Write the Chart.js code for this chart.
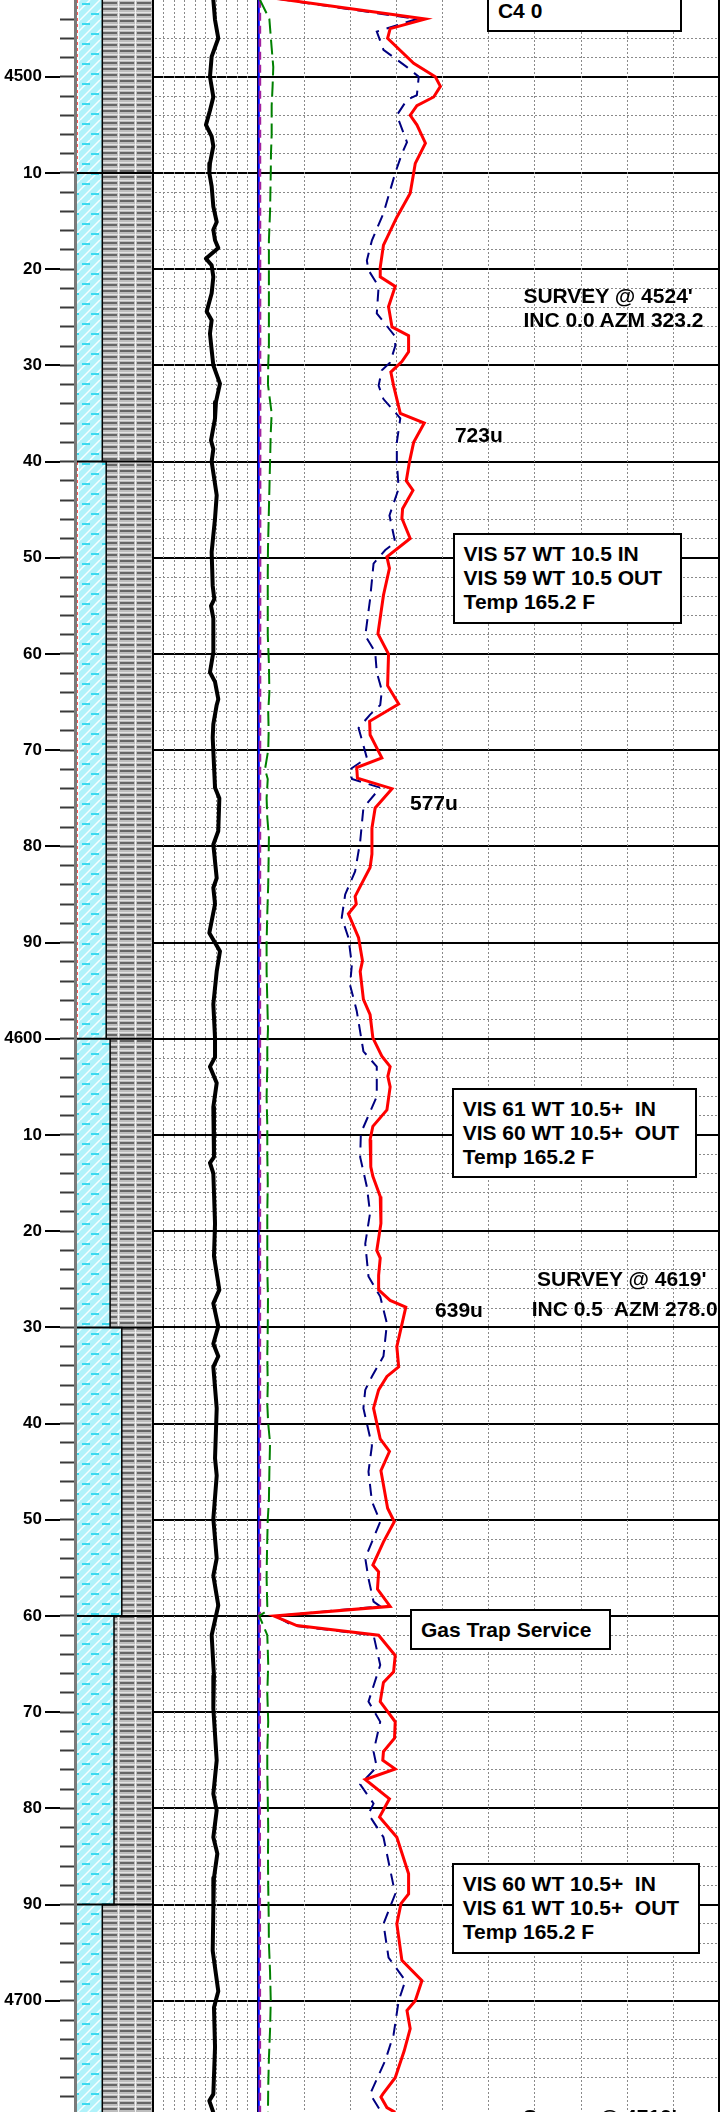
<!DOCTYPE html>
<html>
<head>
<meta charset="utf-8">
<script src="https://cdn.jsdelivr.net/npm/chart.js@4.4.0/dist/chart.umd.min.js"></script>
<style>
  html, body { margin: 0; padding: 0; background: #fff; }
  #wrap { position: relative; width: 720px; height: 2112px; overflow: hidden; }
  #log { display: block; }
  .note { position: absolute; font: bold 21px "Liberation Sans", Arial, sans-serif; line-height: 24px; color: #000; white-space: pre; }
  .box { background: #fff; border: 2px solid #000; box-sizing: border-box; padding: 7px 0 7px 9px; }
  .box.bottom { display: flex; align-items: flex-end; }
</style>
</head>
<body>
<div id="wrap"><canvas id="log" width="720" height="2112"></canvas></div>
<script>
// depth window shown (ft)
const depthTop = 4492.02;
const depthBottom = 4711.56;

// track tick values
const ropTicks = [0, 10, 20, 30, 40, 50, 60, 70, 80, 90, 100];
const gasTicks = [0, 200, 400, 600, 800, 1000, 1200, 1400, 1600, 1800, 2000];

// lithology intervals (top depth, % other, % limestone; rest shale)
const lithTop = [4490, 4510, 4540, 4600, 4630, 4660, 4690];
const otherPct = [5, 0, 5, 0, 0, 0, 0];
const limePct = [30, 35, 35, 45, 60, 50, 35];

// ROP curve, track 1 [depth, value]
const rop = [
  [4492.0, 57.3], [4494.1, 58.9], [4496.0, 62.0], [4497.9, 55.7], [4500.0, 54.1], [4502.1, 57.3],
  [4503.5, 54.1], [4505.0, 50.3], [4506.2, 55.7], [4507.2, 57.3], [4509.0, 54.1], [4510.0, 53.5],
  [4511.4, 55.7], [4513.5, 57.3], [4515.1, 60.5], [4515.9, 57.3], [4517.0, 58.9], [4517.8, 62.0],
  [4518.9, 50.3], [4519.6, 55.7], [4520.8, 57.3], [4522.5, 55.7], [4524.4, 51.0], [4525.3, 55.7],
  [4526.7, 54.1], [4528.4, 55.7], [4530.0, 57.3], [4531.9, 63.6], [4533.8, 59.8], [4535.5, 58.9],
  [4537.8, 55.1], [4538.7, 57.3], [4540.0, 55.7], [4543.5, 60.5], [4545.9, 58.9], [4549.4, 55.7],
  [4552.9, 56.7], [4554.3, 58.2], [4555.0, 55.1], [4556.3, 57.3], [4559.8, 57.3], [4561.9, 54.1],
  [4562.9, 58.9], [4564.7, 62.0], [4565.3, 60.5], [4567.3, 57.3], [4568.7, 56.7], [4573.9, 58.9],
  [4575.0, 63.0], [4578.4, 62.0], [4579.8, 57.3], [4583.3, 60.5], [4584.3, 57.3], [4586.0, 58.9],
  [4589.0, 53.5], [4590.9, 63.6], [4593.0, 60.5], [4596.4, 57.3], [4599.9, 58.9], [4601.9, 58.9],
  [4602.9, 54.1], [4604.6, 60.5], [4607.1, 57.3], [4612.3, 57.9], [4612.9, 54.1], [4614.0, 57.3],
  [4619.2, 58.9], [4622.6, 57.9], [4626.1, 63.0], [4627.5, 57.3], [4629.9, 62.0], [4631.7, 57.3],
  [4633.0, 62.0], [4634.1, 57.3], [4638.4, 60.5], [4643.6, 58.9], [4645.4, 60.5], [4649.9, 57.3],
  [4654.0, 60.5], [4655.8, 57.3], [4658.9, 62.0], [4662.0, 55.7], [4666.2, 57.9], [4669.6, 57.3],
  [4675.0, 60.5], [4678.5, 57.3], [4680.2, 60.5], [4683.0, 57.3], [4684.7, 61.1], [4687.2, 57.9],
  [4690.6, 57.3], [4694.8, 56.7], [4699.0, 62.0], [4700.7, 57.9], [4704.8, 58.9], [4709.7, 57.3],
  [4710.4, 53.5], [4711.6, 57.3]
];

// total gas (units) [depth, value]
const totalGas = [
  [4491.6, 0], [4494.0, 725], [4495.0, 572], [4496.0, 561], [4498.6, 674], [4500.0, 768], [4501.0, 790],
  [4502.1, 761], [4503.0, 688], [4504.0, 659], [4505.0, 688], [4506.9, 725], [4509.0, 681], [4510.0, 674],
  [4512.1, 659], [4514.6, 601], [4517.5, 543], [4519.8, 529], [4520.8, 529], [4521.8, 594], [4523.9, 565],
  [4526.0, 580], [4526.9, 652], [4528.6, 652], [4529.6, 623], [4530.7, 575], [4532.1, 587], [4535.0, 616],
  [4536.0, 720], [4538.0, 674], [4540.0, 656], [4542.0, 642], [4543.0, 671], [4544.9, 626], [4545.9, 623],
  [4548.0, 659], [4549.9, 558], [4551.1, 569], [4553.9, 543], [4557.9, 519], [4560.0, 565], [4563.3, 561],
  [4565.2, 609], [4567.0, 483], [4568.4, 485], [4570.8, 536], [4571.8, 427], [4572.9, 430], [4574.0, 580],
  [4576.0, 507], [4578.1, 493], [4580.8, 493], [4582.2, 485], [4584.5, 435], [4585.2, 420], [4586.0, 425],
  [4587.0, 391], [4589.5, 435], [4591.9, 452], [4593.0, 442], [4595.9, 456], [4597.5, 485], [4599.9, 497],
  [4601.8, 536], [4602.9, 572], [4603.9, 562], [4605.0, 572], [4607.4, 558], [4609.1, 497], [4610.5, 485],
  [4613.3, 488], [4614.3, 497], [4616.4, 529], [4619.2, 532], [4622.0, 514], [4622.8, 529], [4624.6, 522],
  [4626.1, 522], [4627.2, 572], [4627.9, 640], [4632.0, 601], [4634.1, 609], [4635.1, 558], [4636.5, 522],
  [4638.4, 500], [4641.6, 529], [4642.9, 569], [4644.9, 532], [4648.8, 561], [4650.2, 590], [4652.3, 543],
  [4654.7, 497], [4655.4, 522], [4657.2, 517], [4659.0, 572], [4660.0, 68], [4661.0, 167], [4662.0, 522],
  [4664.1, 594], [4665.8, 587], [4666.9, 543], [4668.9, 529], [4671.0, 594], [4672.7, 591], [4674.1, 543],
  [4675.0, 540], [4675.9, 594], [4677.0, 464], [4679.0, 569], [4680.9, 526], [4683.0, 601], [4686.8, 652],
  [4688.9, 652], [4689.9, 619], [4692.0, 601], [4695.8, 623], [4697.9, 710], [4700.0, 681], [4701.0, 645],
  [4702.9, 659], [4705.2, 633], [4708.0, 594], [4709.7, 540], [4710.0, 532], [4711.1, 558], [4711.6, 594]
];

// C1 (units)
const c1 = [
  [4491.6, 0], [4494.0, 688], [4495.3, 514], [4497.2, 543], [4499.0, 645], [4500.0, 696], [4501.9, 688],
  [4502.4, 645], [4504.0, 601], [4506.8, 645], [4508.0, 623], [4510.0, 594], [4514.2, 543], [4517.0, 493],
  [4519.1, 471], [4520.1, 478], [4521.8, 522], [4524.6, 514], [4527.0, 594], [4528.0, 594], [4529.7, 572],
  [4530.5, 536], [4532.1, 522], [4533.5, 543], [4535.5, 616], [4538.0, 601], [4540.0, 601], [4542.8, 609],
  [4545.6, 569], [4548.4, 594], [4549.2, 551], [4550.6, 500], [4554.3, 485], [4558.1, 464], [4559.8, 507],
  [4561.9, 514], [4563.8, 536], [4565.3, 529], [4566.3, 485], [4567.7, 435], [4570.8, 471], [4572.0, 398],
  [4573.0, 406], [4573.9, 529], [4576.0, 456], [4579.5, 442], [4582.6, 420], [4585.0, 377], [4587.4, 362],
  [4589.5, 391], [4592.3, 406], [4594.4, 398], [4597.1, 427], [4601.3, 456], [4602.9, 514], [4606.0, 514],
  [4609.8, 445], [4612.3, 442], [4615.4, 471], [4618.1, 485], [4621.3, 464], [4624.7, 478], [4626.8, 529],
  [4629.6, 558], [4633.0, 543], [4635.1, 493], [4636.5, 464], [4638.4, 456], [4642.3, 493], [4645.0, 478],
  [4648.1, 493], [4650.2, 529], [4654.0, 464], [4656.1, 478], [4658.5, 500], [4659.0, 529], [4660.0, 75],
  [4661.0, 150], [4662.0, 500], [4665.1, 529], [4668.9, 478], [4671.0, 529], [4674.1, 500], [4675.7, 514],
  [4677.5, 442], [4679.5, 500], [4680.6, 478], [4683.0, 543], [4688.9, 594], [4692.0, 543], [4695.5, 565],
  [4697.9, 638], [4700.0, 609], [4703.5, 587], [4706.2, 551], [4709.7, 485], [4711.4, 529]
];

// C2 (units)
const c2 = [
  [4492, 7], [4494, 48], [4497, 58], [4499, 65], [4501, 62], [4503, 58], [4506, 58], [4508, 55], [4510, 54],
  [4514, 51], [4517, 46], [4520, 46], [4524, 46], [4528, 46], [4530, 43], [4532, 42], [4535, 58], [4537, 54],
  [4540, 51], [4543, 48], [4546, 45], [4549, 42], [4552, 41], [4555, 41], [4558, 41], [4561, 46], [4564, 48],
  [4566, 43], [4568, 45], [4570, 43], [4572, 29], [4573, 41], [4575, 36], [4577, 39], [4579, 46], [4581, 45],
  [4584, 43], [4587, 39], [4590, 36], [4593, 36], [4596, 39], [4599, 42], [4601, 39], [4603, 39], [4606, 36],
  [4609, 39], [4612, 39], [4615, 41], [4618, 39], [4621, 39], [4624, 39], [4627, 42], [4630, 41], [4633, 39],
  [4636, 41], [4638, 39], [4640, 43], [4642, 51], [4645, 48], [4648, 46], [4650, 41], [4653, 38], [4656, 36],
  [4659, 39], [4659.6, 29], [4660, 4], [4661, 22], [4662, 39], [4665, 43], [4668, 39], [4671, 43], [4674, 39],
  [4676, 39], [4679, 41], [4682, 43], [4685, 42], [4688, 43], [4691, 45], [4694, 46], [4697, 51], [4700, 54],
  [4703, 51], [4706, 46], [4709, 43], [4711.6, 42]
];

// C3 and C4 (units)
const c3 = [[4492, 7], [4540, 8], [4600, 7], [4659.6, 7], [4660, 3], [4661, 6], [4711.6, 7]];
const c4 = [[4492, 2], [4711.6, 2]];

// text notes: x in gas units, depth in ft
const notes = [
  { text: 'C4 0', left: 992, right: 1838, top: 4488, bottom: 4495.35, box: true, alignBottom: true },
  { text: "SURVEY @ 4524'\nINC 0.0 AZM 323.2", left: 1150, depth: 4522.8 },
  { text: '723u', left: 853, depth: 4537.24 },
  { text: 'VIS 57 WT 10.5 IN\nVIS 59 WT 10.5 OUT\nTemp 165.2 F', left: 843, right: 1837, top: 4547.43, bottom: 4556.88, box: true },
  { text: '577u', left: 658, depth: 4575.49 },
  { text: 'VIS 61 WT 10.5+  IN\nVIS 60 WT 10.5+  OUT\nTemp 165.2 F', left: 839, right: 1903, top: 4605.09, bottom: 4614.44, box: true },
  { text: "SURVEY @ 4619'", left: 1209, depth: 4624.93 },
  { text: 'INC 0.5  AZM 278.0', left: 1186, depth: 4628.14 },
  { text: '639u', left: 767, depth: 4628.19 },
  { text: 'Gas Trap Service', left: 658, right: 1530, top: 4659.31, bottom: 4663.54, box: true },
  { text: 'VIS 60 WT 10.5+  IN\nVIS 61 WT 10.5+  OUT\nTemp 165.2 F', left: 839, right: 1916, top: 4685.71, bottom: 4695.14, box: true },
  { text: "Survey @ 4719'", left: 1148, depth: 4712.08 }
];

// layout of the tracks inside the chart area (pixels)
const AREA_LEFT = 75, AREA_RIGHT = 720;
function fitScale(leftPx, rightPx, lo, hi) {
  const perPx = (hi - lo) / (rightPx - leftPx);
  return { min: lo - (leftPx - AREA_LEFT) * perPx, max: hi + (AREA_RIGHT - rightPx) * perPx };
}
const lithRange = fitScale(75, 153, 0, 100);
const ropRange = fitScale(153, 258.3, 0, 100);
const gasRange = fitScale(258.3, 719.3, 0, 2000);

const FONT = '"Liberation Sans", Arial, sans-serif';
const canvas = document.getElementById('log');
const ctx = canvas.getContext('2d');

function makePattern(w, h, paint) {
  const c = document.createElement('canvas');
  c.width = w; c.height = h;
  paint(c.getContext('2d'));
  return ctx.createPattern(c, 'repeat');
}
const limePattern = makePattern(20, 20, (g) => {
  g.fillStyle = '#b0f2fa'; g.fillRect(0, 0, 20, 20);
  g.strokeStyle = 'rgba(255,255,255,0.9)'; g.lineWidth = 1.5;
  [-20, -10, 0, 10, 20].forEach((o) => { g.beginPath(); g.moveTo(o, 20); g.lineTo(o + 20, 0); g.stroke(); });
  g.fillStyle = '#3cdaf0';
  g.fillRect(2, 3, 8, 2); g.fillRect(11, 13, 8, 2);
});
// shale: rows of dark dashes on light grey, three columns per track
const shalePattern = makePattern(17, 6, (g) => {
  g.fillStyle = '#bdbdbd'; g.fillRect(0, 0, 17, 6);
  g.fillStyle = '#e4e4e4'; g.fillRect(0, 0, 17, 1);
  g.fillStyle = '#666666'; g.fillRect(1, 2, 14, 2);
  g.fillStyle = '#f2f2f2'; g.fillRect(16, 0, 1, 6);
});
const otherPattern = makePattern(5, 6, (g) => {
  g.fillStyle = '#ffffff'; g.fillRect(0, 0, 5, 6);
  g.fillStyle = '#ff5a5a'; g.fillRect(2, 0, 1, 3);
});

const pts = (pairs) => pairs.map(([d, v]) => ({ x: v, y: d }));
const lithBase = depthBottom + 1;
const stepPts = (edges) =>
  lithTop.map((d, i) => ({ x: edges[i], y: d })).concat([{ x: edges[edges.length - 1], y: lithBase }]);
const limeEdge = lithTop.map((_, i) => otherPct[i] + limePct[i]);
const lithLines = [];
lithTop.slice(1).forEach((d) => { lithLines.push({ x: 0, y: d }, { x: 100, y: d }, { x: null, y: null }); });

const isMajor = (c) => c.tick && Math.abs(c.tick.value % 10) < 1e-6;
const keepEven = (axis) => {
  axis.ticks = axis.ticks.filter((t) => Number.isInteger(t.value) && t.value % 2 === 0);
};
const edgeTick = (ticks) => (c) => c.tick && (c.tick.value === ticks[0] || c.tick.value === ticks[ticks.length - 1]);
const ropEdge = edgeTick(ropTicks);
const gasEdge = edgeTick(gasTicks);

const line = (label, data, axis, color, width, dash) => ({
  label, data, xAxisID: axis, yAxisID: 'y', borderColor: color, borderWidth: width,
  borderDash: dash || [], pointRadius: 0, fill: false
});

const chart = new Chart(canvas, {
  type: 'line',
  data: {
    datasets: [
      line('Total gas', pts(totalGas), 'xg', '#ff0000', 3),
      line('C1', pts(c1), 'xg', '#000080', 2, [12, 8]),
      line('C2', pts(c2), 'xg', '#008000', 2, [15, 6]),
      line('C3', pts(c3), 'xg', '#a020a0', 2.5, [8, 5]),
      line('C4', pts(c4), 'xg', '#0000ff', 2),
      Object.assign(line('ROP', pts(rop), 'xr', '#000000', 4), { borderJoinStyle: 'round' }),
      Object.assign(line('Lith tops', lithLines, 'xl', '#000000', 2), { spanGaps: false }),
      Object.assign(line('Other', stepPts(otherPct), 'xl', 'rgba(0,0,0,0)', 0),
        { stepped: 'after', fill: { value: 0 }, backgroundColor: otherPattern }),
      Object.assign(line('Shale', stepPts(limeEdge), 'xl', '#000000', 1.5),
        { stepped: 'after', fill: { value: 100 }, backgroundColor: shalePattern }),
      Object.assign(line('Limestone', stepPts(limeEdge), 'xl', 'rgba(0,0,0,0)', 0),
        { stepped: 'after', fill: { value: 0 }, backgroundColor: limePattern })
    ]
  },
  options: {
    responsive: false,
    animation: false,
    events: [],
    indexAxis: 'y',
    layout: { padding: 0, autoPadding: false },
    plugins: { legend: { display: false }, tooltip: { enabled: false } },
    scales: {
      y: {
        type: 'linear', axis: 'y', position: 'left', weight: 1, reverse: true,
        min: depthTop, max: depthBottom,
        afterBuildTicks: keepEven,
        afterFit: (a) => { a.width = 60; a.paddingTop = 0; a.paddingBottom = 0; },
        ticks: {
          stepSize: 2, autoSkip: false, padding: 3, color: '#000',
          font: { family: FONT, size: 17, weight: 'bold' },
          callback: (v) => (v % 100 === 0 ? String(v) : v % 10 === 0 ? String(v % 100) : '')
        },
        grid: {
          tickLength: 15, tickWidth: 2,
          tickColor: (c) => (isMajor(c) ? '#000' : 'rgba(0,0,0,0)'),
          color: (c) => (isMajor(c) ? '#000' : '#8a8a8a'),
          lineWidth: (c) => (isMajor(c) ? 2 : 1)
        },
        border: { display: false, dash: (c) => (isMajor(c) ? [] : [2, 2]) }
      },
      yMinor: {
        type: 'linear', axis: 'y', position: 'left', weight: 0, reverse: true,
        min: depthTop, max: depthBottom,
        afterBuildTicks: keepEven,
        afterFit: (a) => { a.width = 15; a.paddingTop = 0; a.paddingBottom = 0; },
        ticks: { stepSize: 2, display: false },
        grid: { drawOnChartArea: false, tickLength: 15, tickWidth: 2, tickColor: '#3a3a3a' },
        border: { display: true, color: '#7a7a7a', width: 3, z: 1 }
      },
      xl: {
        type: 'linear', axis: 'x', position: 'top', min: lithRange.min, max: lithRange.max,
        afterBuildTicks: (a) => { a.ticks = [{ value: 100 }]; },
        afterFit: (a) => { a.height = 0; },
        ticks: { display: false },
        grid: { drawTicks: false, color: '#000', lineWidth: 2, z: 1 },
        border: { display: false }
      },
      xr: {
        type: 'linear', axis: 'x', position: 'top', min: ropRange.min, max: ropRange.max,
        afterBuildTicks: (a) => { a.ticks = ropTicks.map((v) => ({ value: v })); },
        afterFit: (a) => { a.height = 0; },
        ticks: { display: false },
        grid: {
          drawTicks: false,
          color: (c) => (ropEdge(c) ? '#000' : '#8a8a8a'),
          lineWidth: (c) => (ropEdge(c) ? 2 : 1)
        },
        border: { display: false, dash: (c) => (ropEdge(c) ? [] : [2, 2]) }
      },
      xg: {
        type: 'linear', axis: 'x', position: 'top', min: gasRange.min, max: gasRange.max,
        afterBuildTicks: (a) => { a.ticks = gasTicks.map((v) => ({ value: v })); },
        afterFit: (a) => { a.height = 0; },
        ticks: { display: false },
        grid: {
          drawTicks: false,
          color: (c) => (gasEdge(c) ? '#000' : '#8a8a8a'),
          lineWidth: (c) => (gasEdge(c) ? 2 : 1)
        },
        border: { display: false, dash: (c) => (gasEdge(c) ? [] : [2, 2]) }
      }
    }
  }
});

// place the text notes using the chart's own scales
const wrap = document.getElementById('wrap');
const xs = chart.scales.xg;
const ys = chart.scales.y;
notes.forEach((n) => {
  const el = document.createElement('div');
  el.className = 'note' + (n.box ? ' box' : '') + (n.alignBottom ? ' bottom' : '');
  el.textContent = n.text;
  const left = xs.getPixelForValue(n.left);
  el.style.left = left + 'px';
  if (n.box) {
    const top = ys.getPixelForValue(n.top);
    const bottom = ys.getPixelForValue(n.bottom);
    el.style.top = top + 'px';
    el.style.width = xs.getPixelForValue(n.right) - left + 'px';
    el.style.height = bottom - top + 'px';
  } else {
    el.style.top = ys.getPixelForValue(n.depth) - 12 + 'px';
  }
  wrap.appendChild(el);
});
</script>
</body>
</html>
